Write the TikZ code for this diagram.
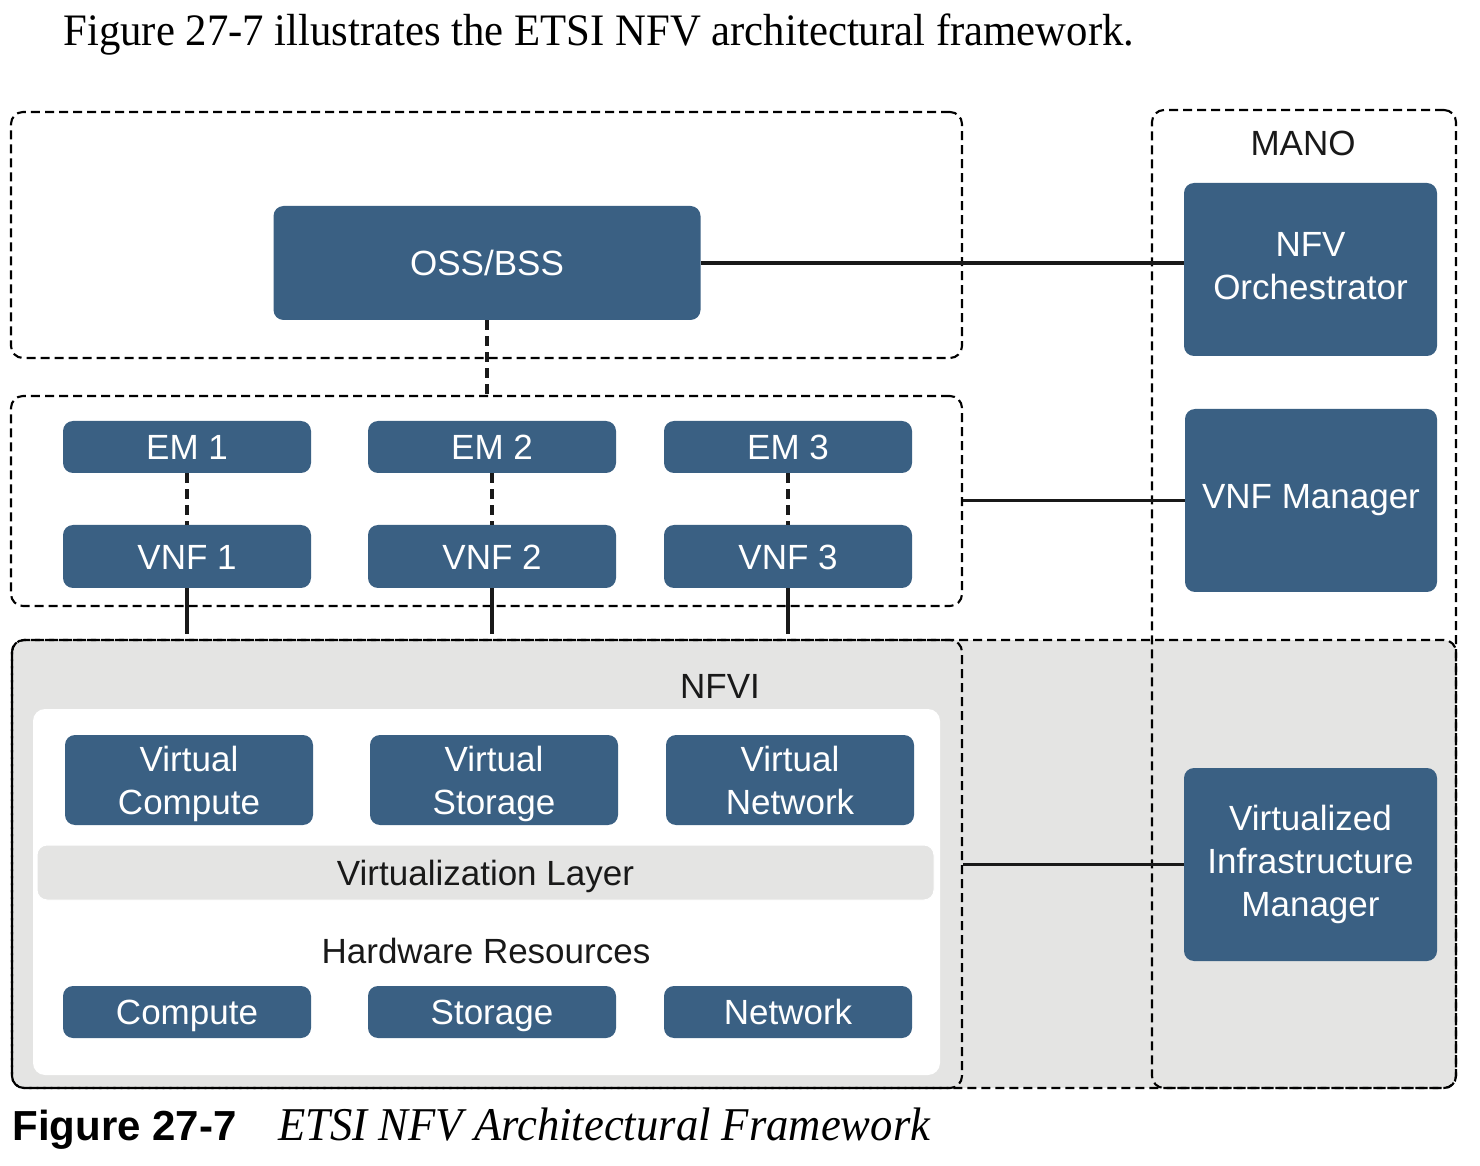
\documentclass[tikz,border=0pt]{standalone}
\usepackage{fontspec}
\setmainfont{Liberation Sans}
\newfontfamily\bookfont[FakeStretch=0.95]{Liberation Serif}
\usetikzlibrary{positioning}
\definecolor{nfvblue}{HTML}{3A6083}
\definecolor{nfvgray}{HTML}{E4E4E3}
\tikzset{
  bluebox/.style={fill=nfvblue,rounded corners=5pt,text=white,align=center,inner sep=0pt,
    font=\fontsize{17.5}{21.5}\selectfont},
  oneline/.style={text height=12.6pt,text depth=0pt},
  embox/.style={bluebox,oneline,minimum width=124pt,minimum height=26pt},
  vnfbox/.style={bluebox,oneline,minimum width=124pt,minimum height=31.5pt},
  virtbox/.style={bluebox,minimum width=124pt,minimum height=45pt},
  mgrbox/.style={bluebox,minimum width=126.5pt},
  groupbox/.style={draw=black,line width=1.05pt,dash pattern=on 4.5pt off 2.5pt,
    rounded corners=6pt,inner sep=0pt},
  label/.style={font=\fontsize{17.5}{21.5}\selectfont,text=black!90,oneline},
  link/.style={line width=1.8pt,black!90},
  dlink/.style={link,dash pattern=on 5pt off 3pt}
}
\begin{document}
\begin{tikzpicture}[x=0.5pt,y=-0.5pt]
  \useasboundingbox (0,0) rectangle (1480,1166);
  % heading and caption
  \node[anchor=base west,inner sep=0pt,font=\bookfont\fontsize{22.5}{26}\selectfont] (intro) at (63,46)
    {Figure 27-7 illustrates the ETSI NFV architectural framework.};
  \node[anchor=base west,inner sep=0pt,font=\bfseries\fontsize{21}{24}\selectfont] (capnum) at (12,1140) {Figure 27-7};
  \node[anchor=base west,inner sep=0pt,font=\bookfont\itshape\fontsize{23.5}{26}\selectfont] (captext) at (278,1140)
    {ETSI NFV Architectural Framework};
  % shaded infrastructure band
  \fill[nfvgray,rounded corners=6pt] (12,640) rectangle (1456,1088);
  \draw[groupbox] (12,640) rectangle (1456,1088);
  % groups
  \node[groupbox,minimum width=475.5pt,minimum height=123pt] (ossgroup) at (486.5,235) {};
  \node[groupbox,minimum width=475.5pt,minimum height=105pt] (vnfgroup) at (486.5,501) {};
  \node[groupbox,minimum width=475pt,minimum height=224pt] (nfvi) at (487,864) {};
  \node[groupbox,minimum width=152pt,minimum height=489pt] (mano) at (1304,599) {};
  \node[label] (manolabel) at (1303,143) {MANO};
  % MANO blocks
  \node[mgrbox,minimum height=86.5pt] (nfvo) at (1310.5,269.5) {NFV\\Orchestrator\vphantom{g}};
  \node[mgrbox,minimum width=126pt,minimum height=91.5pt] (vnfm) at (1311,500.5) {VNF Manager};
  \node[mgrbox,minimum height=96.5pt] (vim) at (1310.5,864.5) {Virtualized\\Infrastructure\\Manager};
  % OSS/BSS
  \node[bluebox,oneline,minimum width=213.5pt,minimum height=57pt] (oss) at (487,263) {OSS/BSS};
  % NFVI inside
  \node[label] (nfvilabel) at (720,686) {NFVI};
  \fill[white,rounded corners=6pt] (33,709) rectangle (940,1075);
  \node[fill=nfvgray,draw=white,line width=0.5pt,rounded corners=5pt,minimum width=448.5pt,
    minimum height=27.5pt,inner sep=0pt,label] (vlayer) at (485.5,872.5) {Virtualization Layer};
  \node[label] (hwlabel) at (486,951) {Hardware Resources};
  \node[virtbox] (vcomp) at (189,780) {Virtual\\\smash{Compute}};
  \node[virtbox] (vstor) at (494,780) {Virtual\\\smash{Storage}};
  \node[virtbox] (vnet) at (790,780) {Virtual\\Network};
  \node[embox] (hwcomp) at (187,1012) {Compute};
  \node[embox] (hwstor) at (492,1012) {Storage};
  \node[embox] (hwnet) at (788,1012) {Network};
  % EMs and VNFs
  \foreach \i/\x in {1/187,2/492,3/788}{
    \node[embox] (em\i) at (\x,447) {EM \i};
    \node[vnfbox] (vnf\i) at (\x,556.5) {VNF \i};
    \draw[dlink] (em\i.south) -- (vnf\i.north);
    \draw[link,shorten >=2.5pt] (vnf\i.south) -- (vnf\i.south |- nfvi.north);
  }
  % reference points
  \draw[dlink] (oss.south) -- (oss.south |- vnfgroup.north);
  \draw[link] (oss.east) -- (oss.east -| nfvo.west);
  \draw[link] (vnfgroup.east |- vnfm.west) -- (vnfm.west);
  \draw[link] (nfvi.east |- vim.west) -- (vim.west);
\end{tikzpicture}
\end{document}
